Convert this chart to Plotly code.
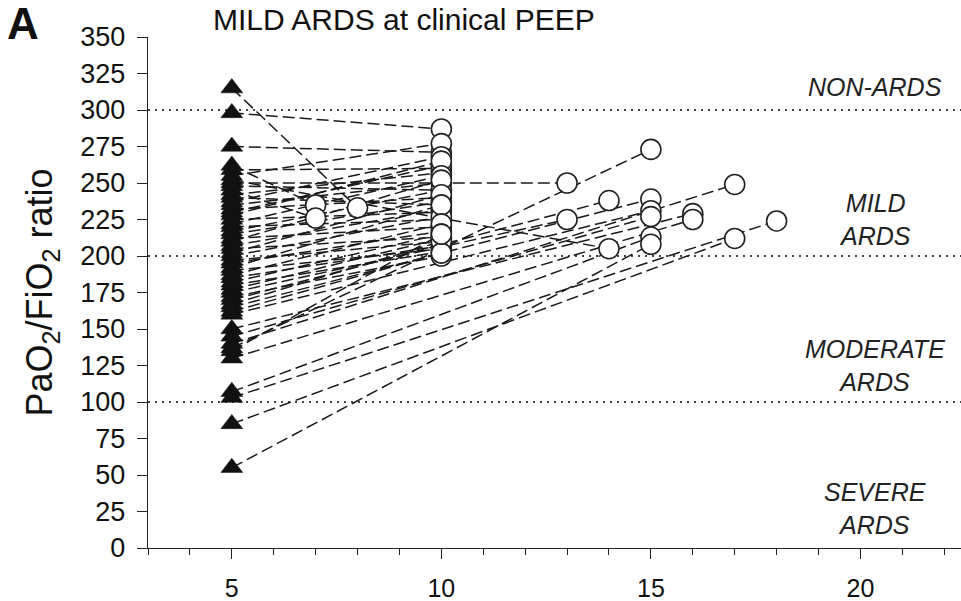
import plotly.graph_objects as go

# PaO2/FiO2 at clinical PEEP 5 and at the higher PEEP level (per patient)
pf_clinical = [315, 298, 275, 262, 259, 255, 252, 250, 248, 245, 242, 240, 237, 235,
               232, 230, 228, 225, 222, 220, 217, 215, 212, 210, 207, 205, 202, 200,
               197, 195, 192, 190, 187, 185, 182, 180, 177, 175, 172, 170, 167, 165,
               162, 160, 150, 145, 140, 137, 135, 130, 107, 103, 85, 55]
peep_high = [8, 10, 10, 7, 10, 10, 14, 13, 10, 7, 10, 10, 10, 10,
             10, 10, 10, 10, 10, 10, 10, 10, 10, 10, 10, 10, 10, 10,
             10, 10, 10, 10, 10, 10, 10, 10, 10, 13, 10, 14, 10, 15,
             10, 15, 16, 15, 17, 15, 10, 16, 15, 18, 17, 15]
pf_high = [233, 287, 271, 235, 260, 277, 205, 250, 245, 226, 257, 235, 268, 250,
           240, 262, 265, 230, 255, 225, 245, 237, 220, 252, 232, 213, 242, 227,
           210, 217, 235, 205, 222, 207, 215, 203, 212, 225, 200, 238, 210, 239,
           202, 231, 229, 227, 249, 273, 215, 225, 213, 224, 212, 208]
peep_clinical = [5] * len(pf_clinical)

x_ticks = [5, 10, 15, 20]
y_ticks = list(range(0, 351, 25))
thresholds = [100, 200, 300]
zone_labels = ["NON-ARDS", "MILD<br>ARDS", "MODERATE<br>ARDS", "SEVERE<br>ARDS"]
zone_y = [316, 225, 125, 27]

FONT = "Liberation Sans, Arial, sans-serif"
NARROW = "Liberation Sans Narrow, Arial Narrow, Liberation Sans, sans-serif"

fig = go.Figure()

# threshold dotted lines
for t in thresholds:
    fig.add_trace(go.Scatter(x=[3, 22.5], y=[t, t], mode="lines",
                             line=dict(color="#444", width=1.8, dash="2px,5px"),
                             hoverinfo="skip", showlegend=False))

# patient connecting lines
lx, ly = [], []
for a, b, c, d in zip(peep_clinical, pf_clinical, peep_high, pf_high):
    lx += [a, c, None]
    ly += [b, d, None]
fig.add_trace(go.Scatter(x=lx, y=ly, mode="lines",
                         line=dict(color="#1a1a1a", width=1.5, dash="12px,5px"),
                         hoverinfo="skip", showlegend=False))

fig.add_trace(go.Scatter(x=peep_high, y=pf_high, mode="markers",
                         marker=dict(symbol="circle", size=20, color="white",
                                     line=dict(color="#222", width=1.6)),
                         showlegend=False))
fig.add_trace(go.Scatter(x=peep_clinical, y=pf_clinical, mode="markers",
                         marker=dict(symbol="triangle-up", size=19, color="#111",
                                     line=dict(color="#111", width=0.5)),
                         showlegend=False))

for lab, yv in zip(zone_labels, zone_y):
    fig.add_annotation(x=20.35, y=yv, text=lab, showarrow=False, xanchor="center",
                       font=dict(family=FONT, size=25, color="#222",
                                 style="italic"), yanchor="middle")

fig.add_annotation(xref="paper", yref="paper", x=-0.176, y=1.078, text="<b>A</b>",
                   showarrow=False, xanchor="left", yanchor="top",
                   font=dict(family=FONT, size=44, color="#111"))
fig.add_annotation(xref="paper", yref="paper", x=0.077, y=1.07,
                   text="MILD ARDS at clinical PEEP", showarrow=False,
                   xanchor="left", yanchor="top",
                   font=dict(family=FONT, size=30, color="#111"))

fig.update_layout(
    width=961, height=601, margin=dict(l=148, r=0, t=37, b=53),
    plot_bgcolor="white", paper_bgcolor="white",
    font=dict(family=FONT, color="#111"),
    xaxis=dict(range=[3, 22.4], tickvals=x_ticks, ticks="outside", ticklen=10,
               tickwidth=1.4, tickcolor="#222", showgrid=False, zeroline=False,
               showline=True, linecolor="#222", linewidth=1.4,
               tickfont=dict(size=25, family=NARROW), ticklabelstandoff=8,
               minor=dict(dtick=1, tick0=0, ticks="outside", ticklen=6,
                          tickcolor="#222", tickwidth=1.2)),
    yaxis=dict(range=[0, 350], tickvals=y_ticks, ticks="outside", ticklen=10,
               tickwidth=1.4, tickcolor="#222", showgrid=False, zeroline=False,
               showline=True, linecolor="#222", linewidth=1.4,
               tickfont=dict(size=27, family=FONT), ticklabelstandoff=6,
               title=dict(text="PaO<sub>2</sub>/FiO<sub>2</sub> ratio",
                          font=dict(size=36, family=FONT), standoff=16)),
)

fig.write_html("out.html")
